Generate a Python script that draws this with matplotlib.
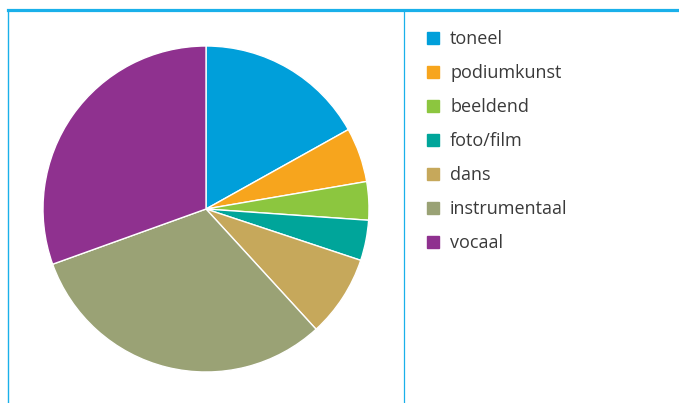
import matplotlib.pyplot as plt
from matplotlib.lines import Line2D
from matplotlib.patches import Rectangle

labels = ['toneel', 'podiumkunst', 'beeldend', 'foto/film', 'dans',
          'instrumentaal', 'vocaal']
values = [16.9, 5.4, 3.8, 4.0, 8.1, 31.3, 30.5]
colors = ['#009fda', '#f7a51d', '#8cc63f', '#00a59a', '#c6a85b',
          '#9aa275', '#8f318f']

W, H = 679, 403
fig = plt.figure(figsize=(W / 100, H / 100), dpi=100)

# pie, centre ~(206, 209) px, radius ~163 px
cx, cy, r = 206, 209, 163
ax = fig.add_axes([(cx - r) / W, (H - cy - r) / H, 2 * r / W, 2 * r / H])
ax.pie(values, colors=colors, startangle=90, counterclock=False,
       wedgeprops=dict(edgecolor='white', linewidth=1.0))
ax.set_xlim(-1, 1)
ax.set_ylim(-1, 1)
ax.set_aspect('equal')
ax.axis('off')

# frame lines
blue = '#1ab0ea'
fig.add_artist(Line2D([8 / W, 1], [1 - 10 / H] * 2, color=blue, lw=2.3,
                      transform=fig.transFigure))
fig.add_artist(Line2D([8 / W] * 2, [0, 1 - 10 / H], color=blue, lw=1.0,
                      transform=fig.transFigure))
fig.add_artist(Line2D([404 / W] * 2, [0, 1 - 10 / H], color=blue, lw=0.9,
                      transform=fig.transFigure))

# legend (manual)
for i, (lab, col) in enumerate(zip(labels, colors)):
    y = 38 + i * 34
    fig.add_artist(Rectangle((427 / W, (H - y - 6) / H), 12 / W, 12 / H,
                             color=col, transform=fig.transFigure))
    fig.text(450 / W, (H - y - 1) / H, lab, fontsize=13, family='Open Sans',
             color='#3a3a3a', va='center', ha='left')

fig.savefig('out.png', dpi=100)
